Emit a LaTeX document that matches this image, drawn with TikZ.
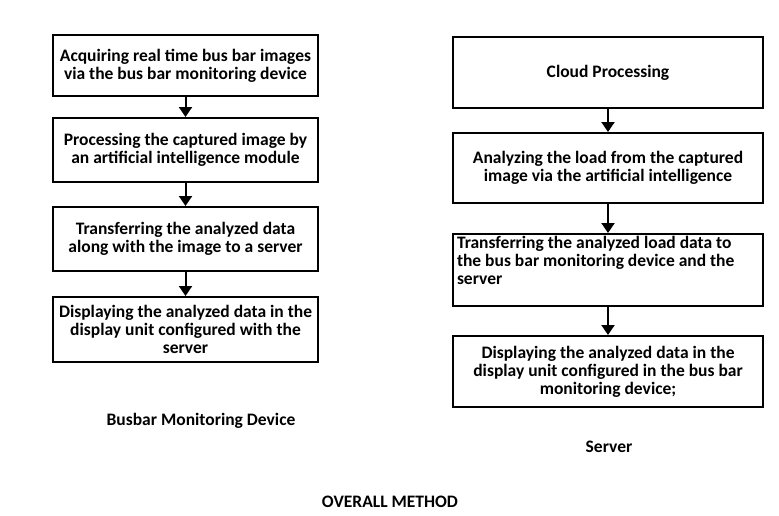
\documentclass[tikz,border=0pt]{standalone}
\usepackage{fontspec}
\setmainfont{Carlito}
\usetikzlibrary{arrows.meta}
\tikzset{
	stepbox/.style={draw, line width=2pt, align=center, inner sep=2pt, font=\bfseries\fontsize{17.5}{18}\selectfont},
	flow/.style={line width=2pt, -{Triangle[width=13pt,length=10pt]}},
	caption/.style={font=\bfseries\fontsize{17.5}{18}\selectfont}
}
\begin{document}
\begin{tikzpicture}[x=1pt,y=-1pt]
	\useasboundingbox (0,0) rectangle (779,515);
	
	% busbar monitoring device
	\node[stepbox, minimum width=265pt, minimum height=61pt] (l1) at (185.5,65.5) {Acquiring real time bus bar images\\via the bus bar monitoring device};
	\node[stepbox, minimum width=265pt, minimum height=64pt] (l2) at (185.5,150) {Processing the captured image by\\an artificial intelligence module};
	\node[stepbox, minimum width=265pt, minimum height=64pt] (l3) at (185.5,239) {Transferring the analyzed data\\along with the image to a server};
	\node[stepbox, minimum width=265pt, minimum height=65pt] (l4) at (185.5,329.5) {Displaying the analyzed data in the\\display unit configured with the\\server};
	
	% server
	\node[stepbox, minimum width=310pt, minimum height=71pt] (r1) at (608,72.5) {Cloud Processing};
	\node[stepbox, minimum width=310pt, minimum height=70pt] (r2) at (608,168) {Analyzing the load from the captured\\image via the artificial intelligence};
	\node[stepbox, minimum width=310pt, minimum height=72pt] (r3) at (608,270) {};
	\node[stepbox, draw=none, align=left, anchor=north west, inner sep=0pt] (r3text) at ([xshift=4pt,yshift=-2.5pt]r3.north west) {Transferring the analyzed load data to\\the bus bar monitoring device and the\\server};
	\node[stepbox, minimum width=310pt, minimum height=71pt] (r4) at (608,371.5) {Displaying the analyzed data in the\\display unit configured in the bus bar\\monitoring device;};
	
	\foreach \a/\b in {l1/l2, l2/l3, l3/l4, r1/r2, r2/r3, r3/r4}
	{
		\draw[flow] (\a) -- (\b);
	}
	
	\node[caption] (dev) at (201,421) {Busbar Monitoring Device};
	\node[caption] (srv) at (609,447) {Server};
	\node[caption] (title) at (390,502) {OVERALL METHOD};
	
\end{tikzpicture}
\end{document}
